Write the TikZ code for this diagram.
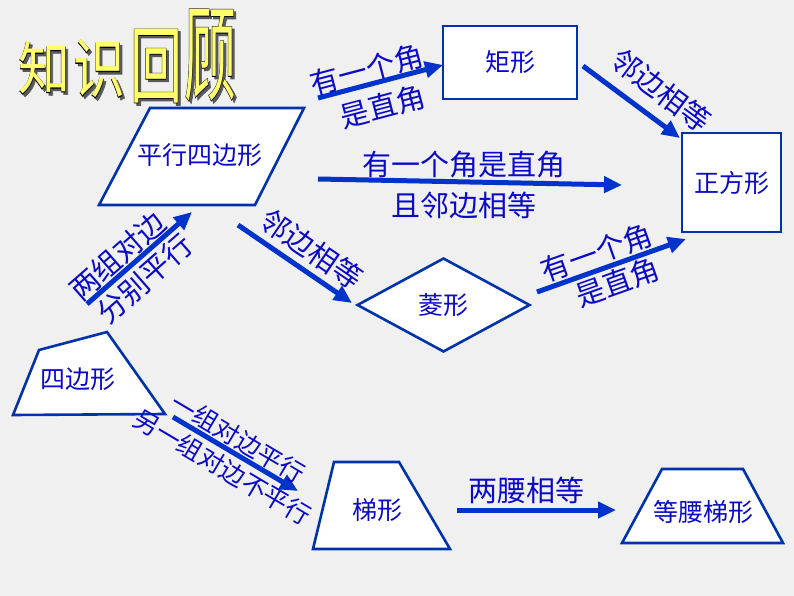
\documentclass[tikz,border=0pt]{standalone}
\usepackage{fontspec}
\usepackage{graphicx}
\setmainfont{Noto Sans CJK SC}
\newfontfamily\titleoutline[FakeBold=1.2]{Noto Sans CJK SC}
\usepackage{tikz}
\usetikzlibrary{arrows.meta,positioning,shapes.geometric}
\usepackage{xcolor}
\definecolor{bggray}     {RGB}{240,240,240}
\definecolor{edgeblue}   {RGB}{0,51,170}
\definecolor{txtblue}    {RGB}{10,10,200}
\definecolor{arrowblue}  {RGB}{0,51,204}
\definecolor{titleyellow}{RGB}{255,255,110}

\begin{document}
\begin{tikzpicture}[x=1pt, y=-1pt,
          shapeline/.style={draw=edgeblue,line width=2.6pt,fill=white,line join=miter},
          box/.style={rectangle,draw=edgeblue,line width=2.6pt,fill=white,inner sep=0pt,
                      text=txtblue,font=\fontsize{25}{25}\selectfont},
          txt/.style={text=txtblue,font=\fontsize{25}{25}\selectfont,inner sep=0pt},
          lbl/.style={text=txtblue,font=\fontsize{29}{29}\selectfont,inner sep=0pt},
          lblsmall/.style={text=txtblue,font=\fontsize{25}{25}\selectfont,inner sep=0pt},
          arr/.style={-{Triangle[length=18pt,width=16pt]},line width=5pt,arrowblue},
          titlechar/.style={inner sep=0pt,font=\fontsize{52}{52}\selectfont}
      ]
        \useasboundingbox (0,0) rectangle (794,596);
        \fill[bggray] (0,0) rectangle (794,596);

        % title
        \foreach \ch/\cx/\cy/\sy [count=\i] in {知/44/68/1.1, 识/99/69/1.25, 回/156/66/1.62, 顾/210/55/2.0} {
          \node[titlechar,text=black!65] (shadow-\i) at (\cx+2.5,\cy+2.5) {\scalebox{1}[\sy]{\titleoutline\ch}};
          \node[titlechar,text=black]    (edge-\i)   at (\cx,\cy)         {\scalebox{1}[\sy]{\titleoutline\ch}};
          \node[titlechar,text=titleyellow] (title-\i) at (\cx,\cy)       {\scalebox{1}[\sy]{\ch}};
        }

        % shapes
        \draw[shapeline] (150,108) -- (304,108) -- (255,205) -- (99,205) -- cycle;
        \node[txt] (para) at (200,155) {平行四边形};
        \node[box,minimum width=134pt,minimum height=73pt] (rect) at (510,62.5) {矩形};
        \node[box,minimum width=99pt,minimum height=99pt] (square) at (731.5,182.5) {正方形};
        \node[box,diamond,minimum width=173pt,minimum height=94pt] (rhombus) at (443.5,305) {菱形};
        \draw[shapeline] (39,350) -- (107,332) -- (165,414) -- (13,415) -- cycle;
        \node[txt] (quad) at (78,379) {四边形};
        \draw[shapeline] (334,462) -- (399,462) -- (450,549) -- (313,549) -- cycle;
        \node[txt] (trap) at (377,510) {梯形};
        \draw[shapeline] (662,469) -- (743,469) -- (783,543) -- (622,543) -- cycle;
        \node[txt] (isotrap) at (703,512) {等腰梯形};

        % arrow ends
        \coordinate (para-rect-s)   at (318,98);   \coordinate (para-rect-e)   at (443,65);
        \coordinate (para-sq-s)     at (318,179);  \coordinate (para-sq-e)     at (622,185);
        \coordinate (rect-sq-s)     at (583,66);   \coordinate (rect-sq-e)     at (680,138);
        \coordinate (para-rh-s)     at (238,225);  \coordinate (para-rh-e)     at (352,303);
        \coordinate (rh-sq-s)       at (537,292);  \coordinate (rh-sq-e)       at (686,239);
        \coordinate (quad-para-s)   at (87,304);   \coordinate (quad-para-e)   at (192,212);
        \coordinate (quad-trap-s)   at (173,417);  \coordinate (quad-trap-e)   at (298,491);
        \coordinate (trap-iso-s)    at (457,510);  \coordinate (trap-iso-e)    at (616,510);

        % arrows
        \draw[arr] (para-rect-s) -- (para-rect-e)
          node[lbl,sloped,pos=.42,yshift=15pt] (lab-a1) {有一个角}
          node[lbl,sloped,pos=.47,yshift=-25pt] (lab-a2) {是直角};
        \draw[arr] (para-sq-s) -- (para-sq-e)
          node[lbl,pos=.48,yshift=17pt] (lab-b1) {有一个角是直角}
          node[lbl,pos=.48,yshift=-24pt] (lab-b2) {且邻边相等};
        \draw[arr] (rect-sq-s) -- (rect-sq-e)
          node[lbl,sloped,pos=.64,yshift=27pt] (lab-c) {邻边相等};
        \draw[arr] (para-rh-s) -- (para-rh-e)
          node[lbl,sloped,pos=.54,yshift=22pt] (lab-d) {邻边相等};
        \draw[arr] (rh-sq-s) -- (rh-sq-e)
          node[lbl,sloped,pos=.44,yshift=17pt] (lab-e1) {有一个角}
          node[lbl,sloped,pos=.50,yshift=-18pt] (lab-e2) {是直角};
        \draw[arr] (quad-para-s) -- (quad-para-e)
          node[lbl,sloped,pos=.39,yshift=16pt] (lab-f1) {两组对边}
          node[lbl,sloped,pos=.43,yshift=-19pt] (lab-f2) {分别平行};
        \draw[arr] (quad-trap-s) -- (quad-trap-e)
          node[lblsmall,sloped,pos=.46,yshift=15pt] (lab-g1) {一组对边平行}
          node[lblsmall,sloped,pos=.47,yshift=-18pt] (lab-g2) {另一组对边不平行};
        \draw[arr] (trap-iso-s) -- (trap-iso-e)
          node[lbl,pos=.44,yshift=20pt] (lab-h) {两腰相等};
      \end{tikzpicture}
\end{document}
